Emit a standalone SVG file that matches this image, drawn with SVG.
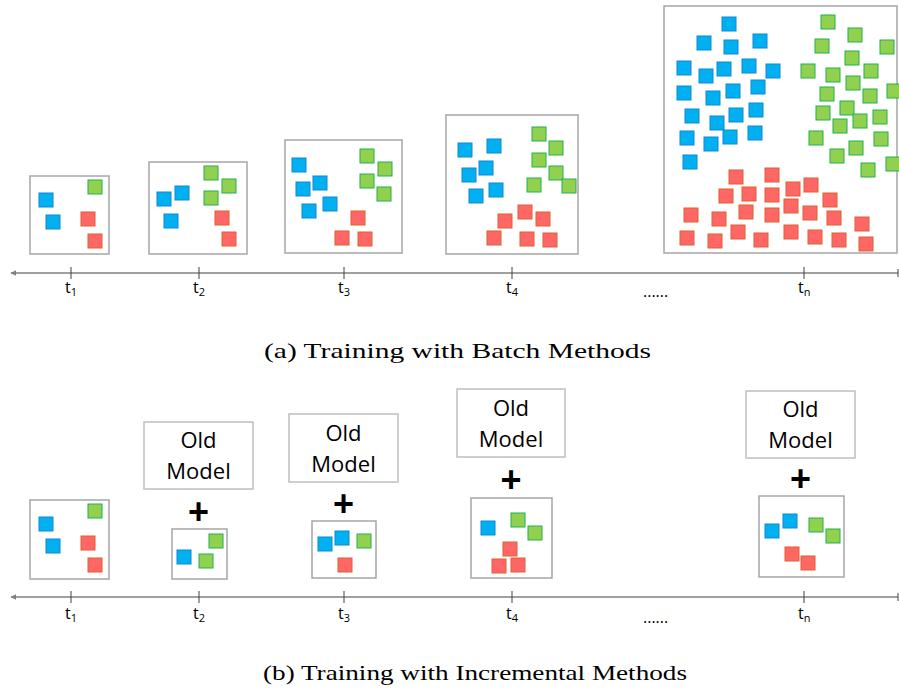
<svg xmlns="http://www.w3.org/2000/svg" xmlns:xlink="http://www.w3.org/1999/xlink" width="899" height="694" viewBox="0 0 899 694">
<style>
.b{fill:#00B0F0;stroke:#1088D4;stroke-width:1}
.g{fill:#92D050;stroke:#22B04E;stroke-width:1}
.r{fill:#FF6666;stroke:#E0602F;stroke-width:1}
.box{fill:#fff;stroke:#A6A6A6;stroke-width:1.5}
.om{fill:#fff;stroke:#BFBFBF;stroke-width:1.5}
.axis{stroke:#808080;stroke-width:1.5;fill:none}
.tick{stroke:#404040;stroke-width:1}
.tl{font-family:"Open Sans","Liberation Sans",sans-serif;font-size:16px;fill:#000}
.sub{font-size:11px}
.omt{font-family:"Open Sans","Liberation Sans",sans-serif;font-size:22px;fill:#000;text-anchor:middle}
.plus{font-family:"Liberation Sans",sans-serif;font-size:36px;font-weight:bold;fill:#000;text-anchor:middle}
.cap{font-family:"Liberation Serif","DejaVu Serif",serif;font-size:21px;fill:#000}
</style>
<defs>
<rect id="sb" class="b" width="14" height="14"/>
<rect id="sg" class="g" width="14" height="14"/>
<rect id="sr" class="r" width="14" height="14"/>
<marker id="arr" viewBox="0 0 10 10" refX="9" refY="5" markerWidth="6" markerHeight="6" orient="auto-start-reverse" markerUnits="userSpaceOnUse">
<path d="M0,0 L10,5 L0,10 z" fill="#808080"/>
</marker>
</defs>
<rect width="899" height="694" fill="#fff"/>

<!-- (a) batch panel -->
<g id="a-t1">
<rect class="box" x="30" y="176" width="79" height="78"/>
<use href="#sb" x="39" y="193"/><use href="#sb" x="46" y="215"/>
<use href="#sg" x="88" y="180"/>
<use href="#sr" x="81" y="212"/><use href="#sr" x="88" y="234"/>
</g>
<g id="a-t2">
<rect class="box" x="149" y="162" width="98" height="92"/>
<use href="#sb" x="157" y="192"/><use href="#sb" x="175" y="186"/><use href="#sb" x="164" y="214"/>
<use href="#sg" x="204" y="166"/><use href="#sg" x="222" y="179"/><use href="#sg" x="204" y="191"/>
<use href="#sr" x="215" y="211"/><use href="#sr" x="222" y="232"/>
</g>
<g id="a-t3">
<rect class="box" x="285" y="140" width="117" height="113"/>
<use href="#sb" x="292" y="158"/><use href="#sb" x="296" y="182"/><use href="#sb" x="313" y="176"/><use href="#sb" x="302" y="204"/><use href="#sb" x="323" y="197"/>
<use href="#sg" x="360" y="149"/><use href="#sg" x="378" y="162"/><use href="#sg" x="360" y="174"/><use href="#sg" x="377" y="187"/>
<use href="#sr" x="351" y="211"/><use href="#sr" x="335" y="231"/><use href="#sr" x="358" y="232"/>
</g>
<g id="a-t4">
<rect class="box" x="446" y="115" width="132" height="139"/>
<use href="#sb" x="458" y="143"/><use href="#sb" x="487" y="139"/><use href="#sb" x="462" y="168"/><use href="#sb" x="479" y="161"/><use href="#sb" x="469" y="189"/><use href="#sb" x="489" y="183"/>
<use href="#sg" x="532" y="127"/><use href="#sg" x="549" y="141"/><use href="#sg" x="532" y="153"/><use href="#sg" x="549" y="166"/><use href="#sg" x="527" y="178"/><use href="#sg" x="562" y="179"/>
<use href="#sr" x="518" y="205"/><use href="#sr" x="498" y="214"/><use href="#sr" x="536" y="212"/><use href="#sr" x="487" y="231"/><use href="#sr" x="520" y="232"/><use href="#sr" x="543" y="233"/>
</g>
<g id="a-tn">
<rect class="box" x="664" y="6" width="233" height="247"/>
<use href="#sb" x="722" y="17"/><use href="#sb" x="697" y="36"/><use href="#sb" x="724" y="40"/><use href="#sb" x="753" y="34"/>
<use href="#sb" x="677" y="61"/><use href="#sb" x="699" y="69"/><use href="#sb" x="717" y="62"/><use href="#sb" x="742" y="59"/><use href="#sb" x="766" y="64"/>
<use href="#sb" x="677" y="86"/><use href="#sb" x="706" y="91"/><use href="#sb" x="726" y="84"/><use href="#sb" x="751" y="80"/>
<use href="#sb" x="685" y="109"/><use href="#sb" x="710" y="116"/><use href="#sb" x="729" y="108"/><use href="#sb" x="749" y="103"/>
<use href="#sb" x="723" y="130"/><use href="#sb" x="748" y="126"/><use href="#sb" x="680" y="131"/><use href="#sb" x="704" y="137"/><use href="#sb" x="683" y="155"/>
<use href="#sg" x="821" y="15"/><use href="#sg" x="848" y="28"/><use href="#sg" x="815" y="39"/><use href="#sg" x="880" y="40"/><use href="#sg" x="845" y="51"/>
<use href="#sg" x="801" y="64"/><use href="#sg" x="826" y="68"/><use href="#sg" x="864" y="64"/><use href="#sg" x="846" y="76"/><use href="#sg" x="887" y="84"/>
<use href="#sg" x="820" y="87"/><use href="#sg" x="863" y="89"/><use href="#sg" x="816" y="106"/><use href="#sg" x="840" y="101"/><use href="#sg" x="853" y="114"/>
<use href="#sg" x="873" y="110"/><use href="#sg" x="833" y="119"/><use href="#sg" x="809" y="131"/><use href="#sg" x="874" y="132"/><use href="#sg" x="849" y="141"/>
<use href="#sg" x="830" y="149"/><use href="#sg" x="861" y="163"/><use href="#sg" x="886" y="157"/>
<use href="#sr" x="729" y="170"/><use href="#sr" x="765" y="168"/><use href="#sr" x="719" y="189"/><use href="#sr" x="742" y="187"/><use href="#sr" x="765" y="188"/>
<use href="#sr" x="786" y="182"/><use href="#sr" x="804" y="178"/><use href="#sr" x="823" y="193"/><use href="#sr" x="784" y="199"/><use href="#sr" x="803" y="206"/>
<use href="#sr" x="684" y="208"/><use href="#sr" x="712" y="212"/><use href="#sr" x="739" y="205"/><use href="#sr" x="765" y="208"/><use href="#sr" x="827" y="211"/>
<use href="#sr" x="855" y="217"/><use href="#sr" x="680" y="231"/><use href="#sr" x="708" y="234"/><use href="#sr" x="731" y="225"/><use href="#sr" x="754" y="233"/>
<use href="#sr" x="784" y="225"/><use href="#sr" x="808" y="230"/><use href="#sr" x="832" y="233"/><use href="#sr" x="859" y="237"/>
</g>

<g id="connectors">
<line class="axis" x1="898" y1="273" x2="11" y2="273" marker-end="url(#arr)"/>
<line class="tick" x1="898" y1="269" x2="898" y2="277"/>
<line class="tick" x1="71" y1="267" x2="71" y2="279"/>
<line class="tick" x1="199" y1="267" x2="199" y2="279"/>
<line class="tick" x1="344" y1="267" x2="344" y2="279"/>
<line class="tick" x1="512" y1="267" x2="512" y2="279"/>
<line class="tick" x1="804" y1="267" x2="804" y2="279"/>
<line class="axis" x1="898" y1="597" x2="11" y2="597" marker-end="url(#arr)"/>
<line class="tick" x1="898" y1="593" x2="898" y2="601"/>
<line class="tick" x1="71" y1="591" x2="71" y2="603"/>
<line class="tick" x1="199" y1="591" x2="199" y2="603"/>
<line class="tick" x1="344" y1="591" x2="344" y2="603"/>
<line class="tick" x1="512" y1="591" x2="512" y2="603"/>
<line class="tick" x1="804" y1="591" x2="804" y2="603"/>
</g>

<g id="axis-labels-a">
<text class="tl" x="65" y="293">t<tspan class="sub" dy="3">1</tspan></text>
<text class="tl" x="193" y="293">t<tspan class="sub" dy="3">2</tspan></text>
<text class="tl" x="338" y="293">t<tspan class="sub" dy="3">3</tspan></text>
<text class="tl" x="506" y="293">t<tspan class="sub" dy="3">4</tspan></text>
<text class="tl" x="643" y="297" font-size="14">......</text>
<text class="tl" x="798" y="293">t<tspan class="sub" dy="3">n</tspan></text>
</g>
<text id="caption-a" class="cap" x="264" y="358" textLength="387" lengthAdjust="spacingAndGlyphs">(a) Training with Batch Methods</text>

<!-- (b) incremental panel -->
<g id="b-t1">
<rect class="box" x="30" y="500" width="79" height="79"/>
<use href="#sb" x="39" y="517"/><use href="#sb" x="46" y="539"/>
<use href="#sg" x="88" y="504"/>
<use href="#sr" x="81" y="536"/><use href="#sr" x="88" y="558"/>
</g>
<g id="b-t2">
<rect class="om" x="144" y="422" width="109" height="67"/>
<text class="omt" x="198.5" y="448">Old</text>
<text class="omt" x="198.5" y="479">Model</text>
<text class="plus" x="198.5" y="524">+</text>
<rect class="box" x="172" y="529" width="55" height="50"/>
<use href="#sb" x="177" y="550"/><use href="#sg" x="209" y="534"/><use href="#sg" x="199" y="554"/>
</g>
<g id="b-t3">
<rect class="om" x="289" y="414" width="109" height="68"/>
<text class="omt" x="343.5" y="441">Old</text>
<text class="omt" x="343.5" y="472">Model</text>
<text class="plus" x="343.5" y="516">+</text>
<rect class="box" x="312" y="521" width="64" height="57"/>
<use href="#sb" x="318" y="537"/><use href="#sb" x="335" y="531"/><use href="#sg" x="357" y="534"/><use href="#sr" x="338" y="558"/>
</g>
<g id="b-t4">
<rect class="om" x="457" y="389" width="108" height="68"/>
<text class="omt" x="511" y="416">Old</text>
<text class="omt" x="511" y="447">Model</text>
<text class="plus" x="511" y="492">+</text>
<rect class="box" x="471" y="498" width="81" height="80"/>
<use href="#sb" x="481" y="521"/><use href="#sg" x="511" y="513"/><use href="#sg" x="528" y="526"/>
<use href="#sr" x="503" y="542"/><use href="#sr" x="492" y="559"/><use href="#sr" x="511" y="558"/>
</g>
<g id="b-tn">
<rect class="om" x="746" y="391" width="109" height="67"/>
<text class="omt" x="800.5" y="417">Old</text>
<text class="omt" x="800.5" y="448">Model</text>
<text class="plus" x="800.5" y="491">+</text>
<rect class="box" x="759" y="496" width="85" height="81"/>
<use href="#sb" x="765" y="524"/><use href="#sb" x="783" y="514"/><use href="#sg" x="809" y="518"/><use href="#sg" x="826" y="529"/>
<use href="#sr" x="785" y="547"/><use href="#sr" x="801" y="556"/>
</g>
<g id="axis-labels-b">
<text class="tl" x="65" y="619">t<tspan class="sub" dy="3">1</tspan></text>
<text class="tl" x="193" y="619">t<tspan class="sub" dy="3">2</tspan></text>
<text class="tl" x="338" y="619">t<tspan class="sub" dy="3">3</tspan></text>
<text class="tl" x="506" y="619">t<tspan class="sub" dy="3">4</tspan></text>
<text class="tl" x="643" y="623" font-size="14">......</text>
<text class="tl" x="798" y="619">t<tspan class="sub" dy="3">n</tspan></text>
</g>
<text id="caption-b" class="cap" x="263" y="680" textLength="424" lengthAdjust="spacingAndGlyphs">(b) Training with Incremental Methods</text>
</svg>
